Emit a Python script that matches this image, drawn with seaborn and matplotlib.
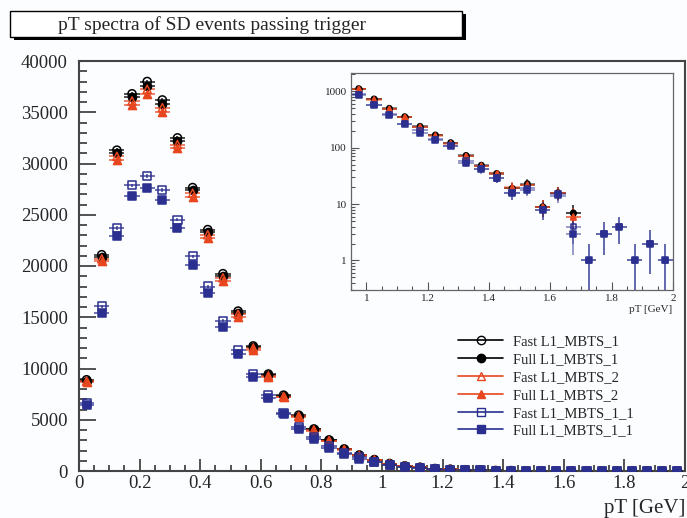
import numpy as np
import pandas as pd
import matplotlib
matplotlib.use("Agg")
import matplotlib.pyplot as plt
import matplotlib.ticker as mticker
from matplotlib.lines import Line2D
from matplotlib.patches import Rectangle
import seaborn as sns

# bin centres (bin width 0.05 GeV)
pt = [0.025, 0.075, 0.125, 0.175, 0.225, 0.275, 0.325, 0.375, 0.425, 0.475,
      0.525, 0.575, 0.625, 0.675, 0.725, 0.775, 0.825, 0.875, 0.925, 0.975,
      1.025, 1.075, 1.125, 1.175, 1.225, 1.275, 1.325, 1.375, 1.425, 1.475,
      1.525, 1.575, 1.625, 1.675, 1.725, 1.775, 1.825, 1.875, 1.925, 1.975]
half_width = 0.025

fast_1 = [8900, 21100, 31300, 36800, 38000, 36200, 32500, 27650, 23550, 19250,
          15600, 12200, 9460, 7400, 5450, 4100, 3030, 2150, 1560, 1115,
          731, 499, 355, 239, 168, 123, 73, 49, 35, 19,
          23, 9, 16, 7, 0, 0, 0, 0, 0, 0]
full_1 = [8800, 20900, 31000, 36500, 37600, 35800, 32200, 27400, 23300, 19050,
          15450, 12100, 9380, 7330, 5400, 4060, 3000, 2130, 1540, 1100,
          722, 493, 351, 236, 166, 121, 72, 48, 34, 19,
          22, 9, 16, 7, 0, 0, 0, 0, 0, 0]
fast_2 = [8750, 20700, 30700, 36100, 37250, 35450, 31850, 27100, 23050, 18850,
          15300, 12000, 9280, 7250, 5340, 4020, 2960, 2100, 1520, 1090,
          715, 488, 347, 233, 164, 120, 71, 48, 34, 19,
          22, 9, 16, 6, 0, 0, 0, 0, 0, 0]
full_2 = [8650, 20500, 30300, 35700, 36800, 35050, 31500, 26700, 22700, 18550,
          15050, 11850, 9200, 7200, 5250, 3950, 2920, 2070, 1500, 1080,
          705, 480, 342, 230, 161, 118, 70, 47, 35, 20,
          22, 9, 16, 6, 0, 0, 0, 0, 0, 0]
fast_11 = [6650, 16050, 23700, 27870, 28800, 27400, 24500, 20960, 18000, 14670,
           11830, 9460, 7370, 5700, 4270, 3360, 2450, 1790, 1340, 880,
           580, 390, 265, 204, 140, 108, 59, 42, 29, 16,
           19, 8, 14, 4, 1, 3, 4, 1, 2, 1]
full_11 = [6450, 15450, 22900, 26800, 27650, 26400, 23700, 20080, 17400, 14050,
           11440, 9160, 7100, 5540, 4140, 3150, 2280, 1620, 1170, 849,
           564, 380, 259, 185, 135, 106, 53, 41, 29, 16,
           18, 8, 15, 3, 1, 3, 4, 1, 2, 1]

labels = ["Fast L1_MBTS_1", "Full L1_MBTS_1", "Fast L1_MBTS_2",
          "Full L1_MBTS_2", "Fast L1_MBTS_1_1", "Full L1_MBTS_1_1"]
series = [fast_1, full_1, fast_2, full_2, fast_11, full_11]

BLACK, RED, BLUE = "#000000", "#e8461e", "#2b2f8f"
styles = [("o", BLACK, False), ("o", BLACK, True), ("^", RED, False),
          ("^", RED, True), ("s", BLUE, False), ("s", BLUE, True)]

sns.set_style("ticks")
plt.rcParams["font.family"] = ["Liberation Serif", "DejaVu Serif"]
bg = "#fbfdfe"

fig = plt.figure(figsize=(6.87, 5.18), dpi=100, facecolor=bg)
ax = fig.add_axes([79 / 687, 1 - 471 / 518, 606 / 687, 410 / 518], facecolor=bg)
ins = fig.add_axes([351 / 687, 1 - 290 / 518, 322 / 687, 217 / 518], facecolor=bg)


def draw(a, log, msize):
    for vals, lab, (mk, col, filled) in zip(series, labels, styles):
        df = pd.DataFrame({"pt": pt, "n": np.array(vals, dtype=float)})
        err = np.sqrt(df["n"])
        if log:
            df.loc[df["n"] <= 0, "n"] = np.nan
            lo = np.minimum(err, df["n"] - 1e-3)
            yerr = [lo, err]
        else:
            yerr = err
        a.errorbar(df["pt"], df["n"], xerr=half_width, yerr=yerr, fmt="none",
                   ecolor=col, alpha=0.55 if log else 0.8, lw=1.2, zorder=2)
        sns.scatterplot(data=df, x="pt", y="n", ax=a, marker=mk, s=msize,
                        color=col, facecolor=col if filled else "none",
                        edgecolor=col, linewidth=1.1, legend=False, zorder=3)


draw(ax, False, 34)
draw(ins, True, 14)

# main axes
ax.set_xlim(0, 2)
ax.set_ylim(0, 40000)
ax.xaxis.set_major_locator(mticker.MultipleLocator(0.2))
ax.xaxis.set_minor_locator(mticker.MultipleLocator(0.05))
ax.yaxis.set_major_locator(mticker.MultipleLocator(5000))
ax.yaxis.set_minor_locator(mticker.MultipleLocator(1000))
ax.xaxis.set_major_formatter(mticker.FuncFormatter(lambda v, _: f"{v:g}"))
ax.tick_params(axis="both", which="both", direction="in", color="#444",
               labelsize=13.5, width=1.3)
ax.tick_params(axis="y", which="major", length=12, pad=8)
ax.tick_params(axis="y", which="minor", length=6)
ax.tick_params(axis="x", which="major", length=9, pad=3)
ax.tick_params(axis="x", which="minor", length=4.5)
for sp in ax.spines.values():
    sp.set_color("#444")
    sp.set_linewidth(1.5)
ax.set_xlabel("")
ax.set_ylabel("")
fig.text(685 / 687, 1 - 508 / 518, "pT [GeV]", ha="right", va="center", fontsize=15)

# inset
ins.set_xlim(0.95, 2)
ins.set_yscale("log")
ins.set_ylim(0.3, 2100)
ins.xaxis.set_major_locator(mticker.MultipleLocator(0.2))
ins.xaxis.set_minor_locator(mticker.MultipleLocator(0.05))
ins.xaxis.set_major_formatter(mticker.FuncFormatter(lambda v, _: f"{v:g}"))
ins.yaxis.set_major_formatter(mticker.FuncFormatter(lambda v, _: f"{v:g}"))
ins.yaxis.set_minor_formatter(mticker.NullFormatter())
ins.tick_params(axis="both", which="both", direction="in", color="#555",
                labelsize=8, width=0.8)
ins.tick_params(axis="both", which="major", length=6, pad=3)
ins.tick_params(axis="both", which="minor", length=3)
for sp in ins.spines.values():
    sp.set_color("#666")
    sp.set_linewidth(0.9)
ins.set_xlabel("")
ins.set_ylabel("")
fig.text(672 / 687, 1 - 309 / 518, "pT [GeV]", ha="right", va="center", fontsize=8)

# legend
handles = [Line2D([0], [0], color=col, lw=1.2, marker=mk, markersize=6,
                  markerfacecolor=col if filled else "none", markeredgecolor=col)
           for mk, col, filled in styles]
fig.legend(handles, labels, loc="upper left", bbox_to_anchor=(458 / 687, 1 - 335 / 518),
           frameon=False, fontsize=10.5, handlelength=3.1, handletextpad=0.7,
           labelspacing=0.32, borderpad=0, borderaxespad=0)

# title box with shadow
fig.patches.append(Rectangle((14 / 687, 1 - 40 / 518), 452 / 687, 26 / 518,
                             transform=fig.transFigure, facecolor="black",
                             edgecolor="none", zorder=1))
fig.patches.append(Rectangle((10 / 687, 1 - 37 / 518), 452 / 687, 26 / 518,
                             transform=fig.transFigure, facecolor="white",
                             edgecolor="black", lw=1, zorder=2))
fig.text(58 / 687, 1 - 25 / 518, "pT spectra of SD events passing trigger",
         ha="left", va="center", fontsize=14, zorder=3)

fig.savefig("out.png", dpi=100, facecolor=bg)
